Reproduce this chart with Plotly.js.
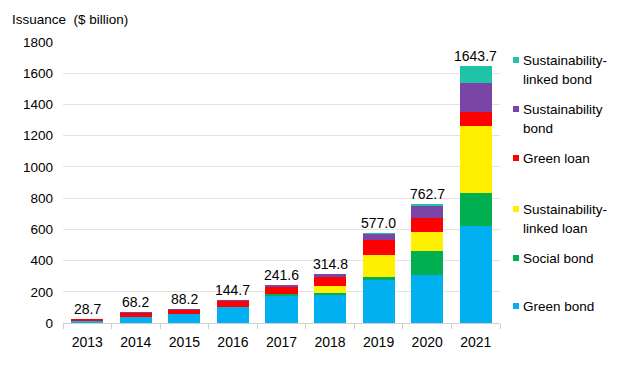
<!DOCTYPE html>
<html>
<head>
<meta charset="utf-8">
<script src="https://cdn.plot.ly/plotly-3.0.1.min.js"></script>
<style>html,body{margin:0;padding:0;background:#fff;}#chart{width:623px;height:371px;}</style>
</head>
<body>
<div id="chart"></div>
<script>
// ---- data ----
var years = ['2013','2014','2015','2016','2017','2018','2019','2020','2021'];
var greenBond  = [16, 40, 56, 100, 173, 178, 276, 308, 622];
var socialBond = [0, 0, 0, 3, 12, 12, 20, 153, 213];
var sustLinkedLoan = [0, 0, 0, 0, 3, 45, 140, 124, 430];
var greenLoan  = [11, 25, 28, 38, 40, 62, 96, 86, 86];
var sustBond   = [1.7, 3.2, 4.2, 3.7, 13.6, 16, 38, 81, 184];
var sustLinkedBond = [0, 0, 0, 0, 0, 1.8, 7, 10.7, 108.7];
var totals = [28.7, 68.2, 88.2, 144.7, 241.6, 314.8, 577.0, 762.7, 1643.7];
var seriesNames = ['Green bond','Social bond','Sustainability-<br>linked loan','Green loan','Sustainability<br>bond','Sustainability-<br>linked bond'];
var yTickVals = [0,200,400,600,800,1000,1200,1400,1600,1800];

// ---- styling ----
var seriesData = [greenBond, socialBond, sustLinkedLoan, greenLoan, sustBond, sustLinkedBond];
var colors = ['#00B0F0','#00B050','#FFF000','#FF0000','#7B45A6','#1FC4A8'];
var FONT = 'Liberation Sans, Arial, sans-serif';

var traces = seriesData.map(function(d, i){
  return {type:'bar', x: years, y: d, name: seriesNames[i].replace('<br>',' '),
    marker:{color: colors[i], line:{width:0}}, hoverinfo:'x+y+name', showlegend:false};
});

// plot area in pixels
var L = 63, R = 500, T = 42, B = 323, W = 623, H = 371;
function px(x){ return (x - L)/(R - L); }
function py(y){ return (B - y)/(B - T); }

var annotations = years.map(function(yr, i){
  return {x: i, y: totals[i], xref:'x', yref:'y', text: totals[i].toFixed(1),
    showarrow:false, yanchor:'bottom', yshift:0, font:{family:FONT, size:14, color:'#000'}};
});

// custom legend (top to bottom: reverse of stacking order)
var shapes = [];
var legendTop = [60, 109, 158, 209, 258, 306];
for (var k = 0; k < seriesNames.length; k++){
  var idx = seriesNames.length - 1 - k;
  var yc = legendTop[k];
  shapes.push({type:'rect', xref:'paper', yref:'paper', x0:px(513), x1:px(519), y0:py(yc+3), y1:py(yc-3),
    fillcolor: colors[idx], line:{width:0}});
  var lines = seriesNames[idx].split('<br>');
  lines.forEach(function(t, j){
    annotations.push({xref:'paper', yref:'paper', x:px(521), y:py(yc + j*19), text:t, showarrow:false,
      xanchor:'left', yanchor:'middle', font:{family:FONT, size:13.5, color:'#000'}});
  });
}

var layout = {
  width: W, height: H,
  margin:{l:L, r:W-R, t:T, b:H-B, pad:0},
  paper_bgcolor:'#fff', plot_bgcolor:'#fff',
  barmode:'stack', bargap:0.34,
  showlegend:false,
  font:{family:FONT, size:13.5, color:'#000'},
  title:{text:'Issuance&nbsp;&nbsp;($ billion)', xref:'container', yref:'container', x:12/W, xanchor:'left',
    y:1-19/H, yanchor:'middle', font:{family:FONT, size:13.5, color:'#000'}},
  xaxis:{type:'category', range:[-0.5, years.length-0.5], autorange:false, tickson:'boundaries', ticks:'outside', ticklen:5, tickcolor:'#d0d0d0', tickwidth:1,
    showline:true, linecolor:'#d0d0d0', linewidth:1, showgrid:false, zeroline:false, tickangle:0, ticklabelstandoff:6,
    tickfont:{family:FONT, size:14, color:'#000'}, fixedrange:true},
  yaxis:{range:[0,1800], autorange:false, tickvals:yTickVals, ticktext:yTickVals.map(String), showgrid:true, gridcolor:'#e3e3e3', gridwidth:1,
    zeroline:false, showline:false, ticks:'', ticklabelstandoff:9,
    tickfont:{family:FONT, size:13.5, color:'#000'}, fixedrange:true},
  annotations: annotations,
  shapes: shapes
};

Plotly.newPlot('chart', traces, layout, {displayModeBar:false, staticPlot:true});
</script>
</body>
</html>
